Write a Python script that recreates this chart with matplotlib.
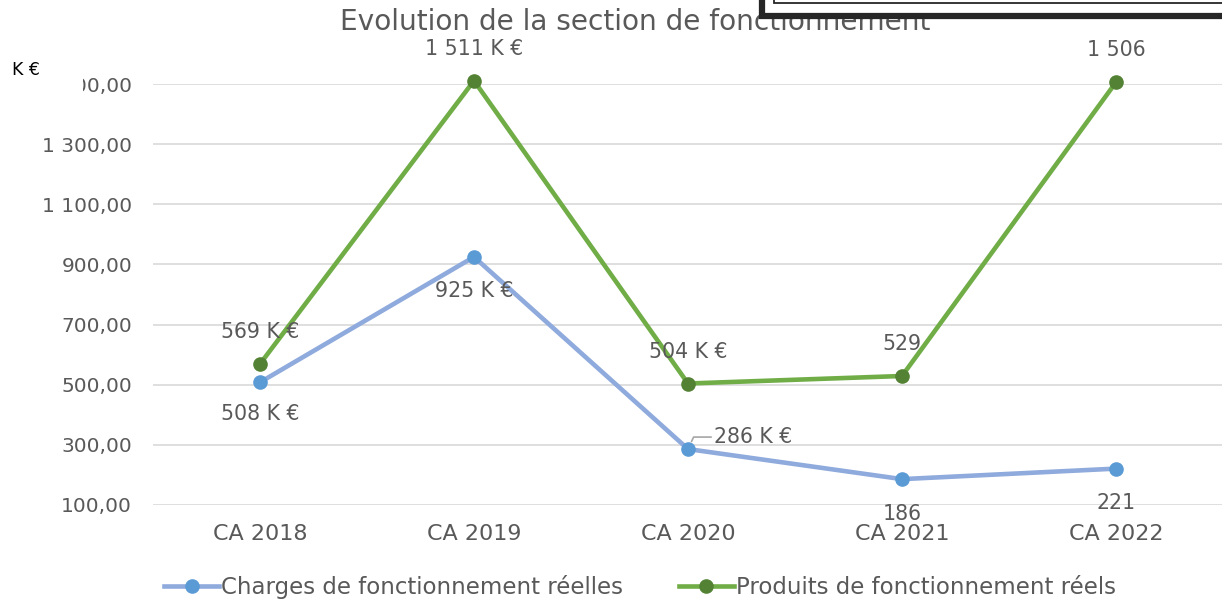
import matplotlib
matplotlib.use("Agg")
import matplotlib.pyplot as plt
from matplotlib.patches import Rectangle
from matplotlib.lines import Line2D

categories = ["CA 2018", "CA 2019", "CA 2020", "CA 2021", "CA 2022"]
charges = [508, 925, 286, 186, 221]
produits = [569, 1511, 504, 529, 1506]
charges_labels = ["508 K €", "925 K €", "286 K €", "186", "221"]
produits_labels = ["569 K €", "1 511 K €", "504 K €", "529", "1 506"]
yticks = [100, 300, 500, 700, 900, 1100, 1300, 1500]
ytick_labels = ["100,00", "300,00", "500,00", "700,00", "900,00", "1 100,00", "1 300,00", "1 500,00"]

FONT = "DejaVu Sans"
plt.rcParams["font.family"] = [FONT]
TXT = "#595959"
C_LINE, C_MARK = "#8FAADC", "#5B9BD5"
P_LINE, P_MARK = "#70AD47", "#548235"

W, H = 1222, 603
fig = plt.figure(figsize=(W / 100, H / 100), dpi=100)
ax = fig.add_axes([153 / W, 1 - 505 / H, 1070 / W, (505 - 84) / H])
x = list(range(len(categories)))

ax.plot(x, charges, color=C_LINE, lw=3.3, marker="o", ms=9.5, mfc=C_MARK, mec=C_MARK,
        zorder=3, clip_on=False, solid_capstyle="round")
ax.plot(x, produits, color=P_LINE, lw=3.3, marker="o", ms=9.5, mfc=P_MARK, mec=P_MARK,
        zorder=3, clip_on=False, solid_capstyle="round")

ax.set_xlim(-0.5, 4.5)
ax.set_ylim(100, 1500)
ax.set_yticks(yticks)
ax.set_yticklabels(ytick_labels)
ax.set_xticks(x)
ax.set_xticklabels(categories)
ax.grid(axis="y", color="#D9D9D9", lw=1.2)
ax.set_axisbelow(True)
for s in ax.spines.values():
    s.set_visible(False)
ax.tick_params(axis="y", length=0, labelsize=14.5, colors=TXT, pad=15)
ax.tick_params(axis="x", length=0, labelsize=16, colors=TXT, pad=14)

fs = 14.8
# produits labels
for i, (v, lab) in enumerate(zip(produits, produits_labels)):
    ax.annotate(lab, (i, v), xytext=(0, 32), textcoords="offset pixels",
                ha="center", va="center", fontsize=fs, color=TXT, zorder=4,
                annotation_clip=False)
# charges labels
offs = [(0, -32), (0, -34), None, (0, -35), (0, -34)]
for i, (v, lab) in enumerate(zip(charges, charges_labels)):
    if offs[i] is None:
        ax.annotate(lab, (i, v), xytext=(26, 12), textcoords="offset pixels",
                    ha="left", va="center", fontsize=fs, color=TXT, zorder=4,
                    arrowprops=dict(arrowstyle="-", color="#A6A6A6", lw=1.2,
                                    shrinkA=0, shrinkB=6,
                                    connectionstyle="angle,angleA=0,angleB=65,rad=0"))
    else:
        ax.annotate(lab, (i, v), xytext=offs[i], textcoords="offset pixels",
                    ha="center", va="center", fontsize=fs, color=TXT, zorder=4,
                    annotation_clip=False)

# title
fig.text(635 / W, 1 - 22 / H, "Evolution de la section de fonctionnement",
         ha="center", va="center", fontsize=20.2, color=TXT)

# white cover over the clipped top tick label and "K €" unit
fig.patches.append(Rectangle((0, 1 - 100 / H), 83 / W, 40 / H, transform=fig.transFigure,
                             facecolor="white", edgecolor="none", zorder=1))
fig.text(12 / W, 1 - 70 / H, "K €", ha="left", va="center", fontsize=12.5,
         color="black", zorder=2)

# black framed box at top right
fig.patches.append(Rectangle((762 / W, 1 - 16 / H), 500 / W, 40 / H, transform=fig.transFigure,
                             facecolor="white", edgecolor="#262626", lw=4.5, zorder=5))
fig.patches.append(Rectangle((774 / W, 1 - 3 / H), 500 / W, 40 / H, transform=fig.transFigure,
                             facecolor="white", edgecolor="#262626", lw=1.3, zorder=6))

# legend
handles = [
    Line2D([], [], color=C_LINE, lw=3.3, marker="o", ms=9.5, mfc=C_MARK, mec=C_MARK),
    Line2D([], [], color=P_LINE, lw=3.3, marker="o", ms=9.5, mfc=P_MARK, mec=P_MARK),
]
fig.legend(handles, ["Charges de fonctionnement réelles", "Produits de fonctionnement réels"],
           loc="center", bbox_to_anchor=(640 / W, 1 - 587 / H), ncol=2, frameon=False,
           fontsize=16.5, labelcolor=TXT, handlelength=2.4, handletextpad=0.1,
           columnspacing=2.4)

fig.savefig("out.png", dpi=100)
